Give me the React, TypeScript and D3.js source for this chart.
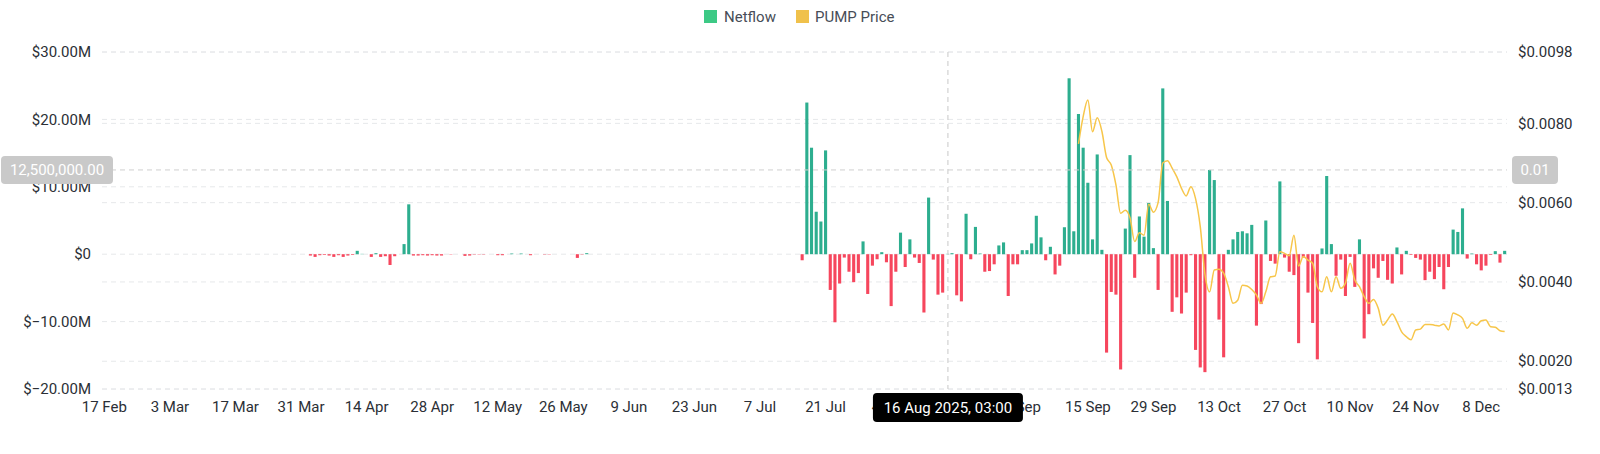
import React from "react";
import * as d3 from "d3";

// ---------- DATA ----------
const aprMayStart = "2025-04-02";
const aprMayNetflowM = [
  -0.2, -0.4, -0.15, -0.1, -0.2, -0.4, -0.15, -0.4, -0.2, -0.1,
  0.5, 0.05, 0, -0.4, 0.15, -0.4, -0.3, -1.6, -0.3, 0,
  1.5, 7.4, -0.2, -0.2, -0.15, -0.2, -0.15, -0.2, -0.2, 0,
  -0.05, 0, 0, -0.25, -0.2, -0.05, -0.05, -0.05, 0, 0,
  -0.15, -0.15, 0, 0.1, 0, 0.1, 0, -0.15, 0, 0,
  -0.05, -0.05, 0, 0, 0, 0, 0, -0.55, -0.05, 0.15,
];

const julDecStart = "2025-07-16";
const julDecNetflowM = [
  // Jul 16 - Jul 31
  -0.9, 22.5, 15.8, 6.3, 4.85, 15.4, -5.3, -10.1, -4.35, -0.5, -2.6, -4.15, -2.8, 1.9, -5.9, -1.7,
  // Aug
  -0.75, 0.3, -1.2, -7.7, -2.6, 3.2, -1.9, 2.2, -0.5, -1.3, -8.65, 8.4, -0.8, -6.0, -5.7, 0.05,
  0.15, -6.1, -7.0, 6.0, -0.75, 4.05, 0.1, -2.6, -2.5, -1.5, 1.3, 1.75, -6.2, -1.5, -1.5,
  // Sep
  0.6, 0.6, 1.6, 5.7, 2.5, -0.9, 1.1, -3.0, -1.7, 4.0, 26.1, 3.4, 20.8, 15.8, 10.6,
  2.2, 14.8, 0.65, -14.6, -5.6, -6.0, -17.1, 3.8, 14.7, -3.5, 5.6, 2.6, 7.6, 0.9, -5.3,
  // Oct
  24.6, 7.9, -8.55, -6.4, -8.8, -5.7, -0.15, -14.2, -16.8, -17.5, 12.5, 11.0, -9.7, -15.3, 0.65,
  2.2, 3.3, 3.4, 3.1, 4.35, -10.6, -7.4, 5.0, -1.0, -1.4, 10.8, -0.5, -2.6, -3.1, -13.2, -0.5,
  // Nov
  -5.7, -10.2, -15.6, 0.85, 11.6, 1.5, -3.2, -0.8, -6.2, -0.4, -4.85, 2.2, -12.5, -8.9, -2.1,
  -3.5, -1.0, -3.8, -4.35, 1.0, -3.0, 0.5, -0.1, -0.55, -0.8, -3.85, -2.6, -3.7, -1.9, -5.2,
  // Dec 1 - 13
  -1.9, 3.65, 3.3, 6.8, -0.65, 0.1, -1.5, -2.4, -1.7, -0.1, 0.45, -1.25, 0.5,
];

const priceStart = "2025-09-13";
const priceUSD = [
  // Sep 13 - 30
  0.00748, 0.00817, 0.00859, 0.00779, 0.00814, 0.0078, 0.00714, 0.00695, 0.00645, 0.00573,
  0.00581, 0.00562, 0.00502, 0.00524, 0.00518, 0.00596, 0.00576, 0.006,
  // Oct
  0.007, 0.00706, 0.00687, 0.00665, 0.00636, 0.00617, 0.0064, 0.0061, 0.0054, 0.0042,
  0.00375, 0.0043, 0.00432, 0.00422, 0.00388, 0.00346, 0.00354, 0.00392, 0.0039, 0.00381,
  0.00367, 0.00346, 0.00375, 0.00413, 0.00415, 0.00476, 0.00472, 0.00466, 0.00518, 0.0044, 0.00464,
  // Nov
  0.00455, 0.00447, 0.00388, 0.00375, 0.00413, 0.00375, 0.00413, 0.00384, 0.00397, 0.00447,
  0.00405, 0.00388, 0.00363, 0.00346, 0.00356, 0.00334, 0.00291, 0.00304, 0.00319, 0.003,
  0.00274, 0.00262, 0.00254, 0.00279, 0.00281, 0.00293, 0.00293, 0.00291, 0.00289, 0.00294,
  // Dec 1 - 13
  0.00279, 0.00322, 0.00317, 0.00308, 0.00283, 0.00297, 0.00291, 0.00302, 0.00304, 0.00287,
  0.00286, 0.00277, 0.00275,
];

const leftTicks = [30e6, 20e6, 10e6, 0, -10e6, -20e6];
const rightTicks = [0.0098, 0.008, 0.006, 0.004, 0.002, 0.0013];
const xTickStart = "2025-02-17";
const xTickEnd = "2025-12-13";
const legendItems = ["Netflow", "PUMP Price"];
const cursorDate = "2025-08-16T03:00:00Z";
const cursorNetflow = 12500000;
const cursorLabelLeft = "12,500,000.00";
const cursorLabelRight = "0.01";
const cursorLabelBottom = "16 Aug 2025, 03:00";

// ---------- HELPERS ----------
const parse = (s: string) => new Date(s + (s.length === 10 ? "T00:00:00Z" : ""));
function dailySeries(start: string, vals: number[]) {
  const s = parse(start);
  return vals.map((v, i) => ({ date: d3.utcDay.offset(s, i), value: v }));
}

const W = 1600, H = 454;
const PL = 102, PR = 1507, PT = 52, PB = 389;
const GREEN = "#2DAE8F", RED = "#F6465D", GOLD = "#F7C64A";
const GRID = "#E6E8EA";
const FONT = "Roboto, 'Noto Sans', sans-serif";
const TXT = "#2B2F36";

export default function App() {
  const x = d3.scaleUtc()
    .domain([new Date(Date.UTC(2025, 1, 16, 12)), new Date(Date.UTC(2025, 11, 13, 12))])
    .range([PL, PR]);
  const yL = d3.scaleLinear().domain([-20e6, 30e6]).range([PB, PT]);
  const yR = d3.scaleLinear().domain([0.0013, 0.0098]).range([PB, PT]);

  const bars = [
    ...dailySeries(aprMayStart, aprMayNetflowM),
    ...dailySeries(julDecStart, julDecNetflowM),
  ].map((d) => ({ ...d, value: d.value * 1e6 }));
  const price = dailySeries(priceStart, priceUSD);

  const line = d3.line<{ date: Date; value: number }>()
    .x((d) => x(d.date))
    .y((d) => yR(d.value))
    .curve(d3.curveMonotoneX);

  const xTicks = d3.utcDay.range(parse(xTickStart), parse(xTickEnd), 14);
  const fmtX = d3.utcFormat("%-d %b");
  const fmtL = (v: number) => (v === 0 ? "$0" : `$${d3.format(".2f")(v / 1e6)}M`);
  const fmtR = (v: number) => `$${d3.format(".4f")(v)}`;
  const bw = 3.1;
  const cx = x(parse(cursorDate));
  const cy = yL(cursorNetflow);

  return (
    <svg width={W} height={H} style={{ position: "absolute", left: 0, top: 0, background: "#fff" }} fontFamily={FONT}>
      {/* grid lines */}
      {leftTicks.map((t) => (
        <line key={"gl" + t} x1={PL} x2={PR} y1={yL(t)} y2={yL(t)} stroke={GRID} strokeDasharray="5,4" />
      ))}
      {rightTicks.map((t) => (
        <line key={"gr" + t} x1={PL} x2={PR} y1={yR(t)} y2={yR(t)} stroke={GRID} strokeDasharray="5,4" />
      ))}

      {/* left axis labels */}
      {leftTicks.map((t) => (
        <text key={"tl" + t} x={91} y={yL(t)} dy="0.35em" textAnchor="end" fontSize={15} fill={TXT}>{fmtL(t)}</text>
      ))}
      {/* right axis labels */}
      {rightTicks.map((t) => (
        <text key={"tr" + t} x={1518} y={yR(t)} dy="0.35em" textAnchor="start" fontSize={15} fill={TXT}>{fmtR(t)}</text>
      ))}
      {/* x axis labels */}
      {xTicks.map((t) => (
        <text key={"tx" + t.getTime()} x={x(t)} y={407} dy="0.35em" textAnchor="middle" fontSize={15} fill={TXT}>{fmtX(t)}</text>
      ))}

      {/* bars */}
      {bars.map((d) => {
        const y0 = yL(0), y1 = yL(d.value);
        const h = Math.abs(y1 - y0);
        if (h < 0.05) return null;
        return (
          <rect key={"b" + d.date.getTime()} x={x(d.date) - bw / 2} width={bw}
            y={Math.min(y0, y1)} height={h} fill={d.value >= 0 ? GREEN : RED} />
        );
      })}

      {/* price line */}
      <path d={line(price) || ""} fill="none" stroke={GOLD} strokeWidth={1.5} />

      {/* crosshair */}
      <line x1={cx} x2={cx} y1={PT} y2={PB} stroke="#C8C8C8" strokeDasharray="5,4" />
      <line x1={PL} x2={PR} y1={cy} y2={cy} stroke="#CFCFCF" strokeDasharray="5,4" />
      <rect x={1} y={cy - 14} width={112} height={28} rx={4} fill="#C9C9C9" />
      <text x={57} y={cy} dy="0.35em" textAnchor="middle" fontSize={15} fill="#fff">{cursorLabelLeft}</text>
      <rect x={1512} y={cy - 14} width={46} height={28} rx={4} fill="#C9C9C9" />
      <text x={1535} y={cy} dy="0.35em" textAnchor="middle" fontSize={15} fill="#fff">{cursorLabelRight}</text>
      <rect x={cx - 75} y={393} width={150} height={29} rx={4} fill="#000" />
      <text x={cx} y={407.5} dy="0.35em" textAnchor="middle" fontSize={15} fill="#fff">{cursorLabelBottom}</text>

      {/* legend */}
      <rect x={704} y={10} width={13} height={13} fill="#3CC985" />
      <text x={724} y={16.5} dy="0.35em" fontSize={15} fill="#474D57">{legendItems[0]}</text>
      <rect x={796} y={10} width={13} height={13} fill="#F0C14B" />
      <text x={815} y={16.5} dy="0.35em" fontSize={15} fill="#474D57">{legendItems[1]}</text>
    </svg>
  );
}
